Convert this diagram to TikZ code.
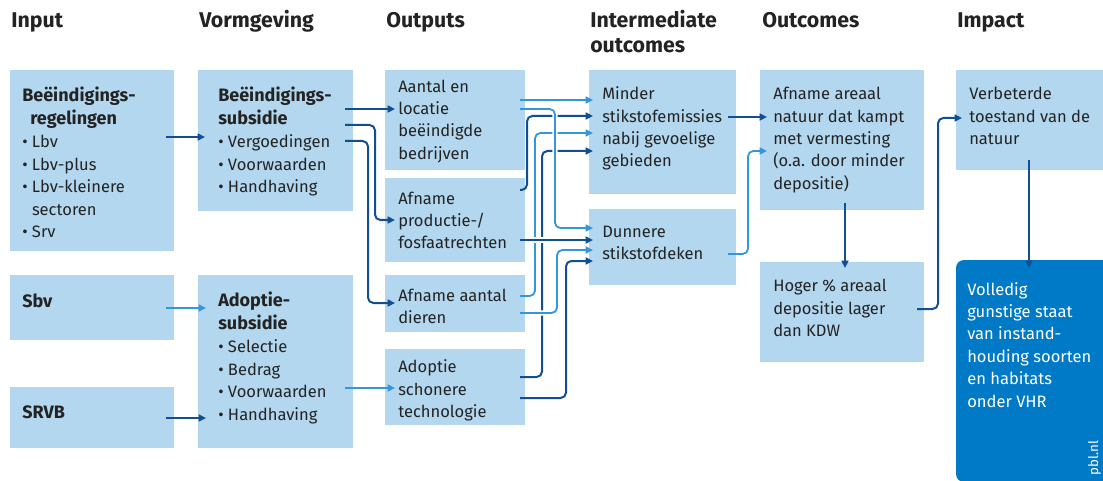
\documentclass[tikz,border=0pt]{standalone}
\usepackage{fontspec}
\setmainfont{Fira Sans}
\usetikzlibrary{arrows.meta}

\definecolor{boxfill}{RGB}{179,215,239}
\definecolor{boxdark}{RGB}{0,121,198}
\definecolor{linedark}{RGB}{18,78,146}
\definecolor{linelight}{RGB}{52,151,219}
\definecolor{inktext}{RGB}{35,35,35}

\newcommand\boxtitle[1]{{\fontsize{13.5}{16.8}\selectfont\bfseries #1}}
% connector between output and intermediate columns, with a white casing
% in the gutter so that crossings show a small gap
\newcommand\gutterline[2]{%
  \begin{scope}
    \clip (526,60) rectangle (588,440);
    \draw[casing] #2;
  \end{scope}
  \draw[#1] #2;}

\begin{document}
\begin{tikzpicture}[x=0.75pt, y=-0.75pt,
  size/.style 2 args={minimum width=#1*0.75pt, minimum height=#2*0.75pt},
  panel/.style={fill=boxfill, draw=none, inner sep=0, outer sep=0, anchor=north west},
  txt/.style={anchor=north west, inner sep=0, align=left, text=inktext,
              font=\fontsize{12.4}{16.8}\selectfont, execute at begin node=\strut},
  head/.style={anchor=base west, inner sep=0, text=inktext,
               font=\fontsize{16}{20}\selectfont\bfseries},
  conn/.style={rounded corners=4pt, -{Triangle[length=5.5pt,width=5.2pt]}},
  dk/.style={conn, draw=linedark, line width=1.5pt},
  lt/.style={conn, draw=linelight, line width=1.35pt},
  casing/.style={draw=white, line width=4pt, rounded corners=4pt}]
\useasboundingbox (0,0) rectangle (1103,481);

% column headings
\node[head] (hin)   at (11,28)  {Input};
\node[head] (hvorm) at (199,28) {Vormgeving};
\node[head] (hout)  at (386,28) {Outputs};
\node[head] (hint)  at (590,28) {Intermediate};
\node[head] (hint2) at (590,53) {outcomes};
\node[head] (hoc)   at (762,28) {Outcomes};
\node[head] (himp)  at (957,28) {Impact};

% boxes
\node[panel, size={164}{181}] (in1)  at (10,70)  {};
\node[panel, size={164}{65}]  (sbv)  at (10,275) {};
\node[panel, size={164}{61}]  (srvb) at (10,387) {};
\node[panel, size={155}{141}] (vb)   at (198,70) {};
\node[panel, size={155}{173}] (va)   at (198,275) {};
\node[panel, size={140}{100}] (o1)   at (385,70) {};
\node[panel, size={140}{84}]  (o2)   at (385,178) {};
\node[panel, size={140}{57}]  (o3)   at (385,275) {};
\node[panel, size={140}{76}]  (o4)   at (385,349) {};
\node[panel, size={147}{124}] (im1)  at (589,70) {};
\node[panel, size={147}{76}]  (im2)  at (589,209) {};
\node[panel, size={164}{140}] (oc1)  at (760,70) {};
\node[panel, size={164}{100}] (oc2)  at (760,262) {};
\node[panel, size={147}{100}] (ip1)  at (956,70) {};
\node[panel, fill=boxdark, rounded corners=6pt, size={160}{222}] (ip2) at (956,260) {};

% box texts
\node[txt] (in1t) at ([shift={(12,17)}]in1.north west)
  {\boxtitle{Beëindigings-}\\\boxtitle{\hspace*{6pt}regelingen}\\[1pt]• Lbv\\• Lbv-plus\\• Lbv-kleinere\\\hphantom{• }sectoren\\• Srv};
\node[txt] (sbvt) at ([shift={(12,17)}]sbv.north west) {\boxtitle{Sbv}};
\node[txt] (srvbt) at ([shift={(12,16)}]srvb.north west) {\boxtitle{SRVB}};
\node[txt] (vbt) at ([shift={(20,17)}]vb.north west)
  {\boxtitle{Beëindigings-}\\\boxtitle{subsidie}\\[1pt]• Vergoedingen\\• Voorwaarden\\• Handhaving};
\node[txt] (vat) at ([shift={(20,17)}]va.north west)
  {\boxtitle{Adoptie-}\\\boxtitle{subsidie}\\[1pt]• Selectie\\• Bedrag\\• Voorwaarden\\• Handhaving};
\node[txt] (o1t) at ([shift={(13,9.5)}]o1.north west) {Aantal en\\locatie\\beëindigde\\bedrijven};
\node[txt] (o2t) at ([shift={(13,13.5)}]o2.north west) {Afname\\productie-/\\fosfaatrechten};
\node[txt] (o3t) at ([shift={(13,13.5)}]o3.north west) {Afname aantal\\dieren};
\node[txt] (o4t) at ([shift={(13,10.5)}]o4.north west) {Adoptie\\schonere\\technologie};
\node[txt] (im1t) at ([shift={(13,16.5)}]im1.north west) {Minder\\stikstofemissies\\nabij gevoelige\\gebieden};
\node[txt] (im2t) at ([shift={(13,16.5)}]im2.north west) {Dunnere\\stikstofdeken};
\node[txt] (oc1t) at ([shift={(13,17)}]oc1.north west) {Afname areaal\\natuur dat kampt\\met vermesting\\(o.a. door minder\\depositie)};
\node[txt] (oc2t) at ([shift={(13,17)}]oc2.north west) {Hoger \% areaal\\depositie lager\\dan KDW};
\node[txt] (ip1t) at ([shift={(13,17)}]ip1.north west) {Verbeterde\\toestand van de\\natuur};
\node[txt, text=white] (ip2t) at ([shift={(11,22)}]ip2.north west) {Volledig\\gunstige staat\\van instand-\\houding soorten\\en habitats\\onder VHR};
\node[rotate=90, anchor=base west, inner sep=0, text=white, font=\fontsize{10}{12}\selectfont] (credit) at (1098,476) {pbl.nl};

% input -> design
\draw[dk] ([shift={(-8,67)}]in1.north east) -- ([shift={(7,67)}]vb.north west);
\draw[lt] ([shift={(-8,33)}]sbv.north east) -- ([shift={(8,33)}]va.north west);
\draw[dk] ([shift={(-8,31)}]srvb.north east) -- ([shift={(8,143)}]va.north west);

% design -> outputs
\draw[dk] ([shift={(-8,39)}]vb.north east) -- ([shift={(10,39)}]o1.north west);
\draw[dk] ([shift={(-8,55)}]vb.north east) -| ([shift={(-10,42)}]o2.north west) -- ([shift={(10,42)}]o2.north west);
\draw[dk] ([shift={(-8,71)}]vb.north east) -| ([shift={(-17,28)}]o3.north west) -- ([shift={(10,28)}]o3.north west);
\draw[lt] ([shift={(-8,113)}]va.north east) -- ([shift={(10,39)}]o4.north west);

% outputs -> intermediate outcomes
\gutterline{dk}{([shift={(-5,28)}]o4.north east) -| ([shift={(-47,81)}]im1.north west) -- ([shift={(4,81)}]im1.north west)}
\gutterline{lt}{([shift={(-5,21)}]o3.north east) -| ([shift={(-54,63)}]im1.north west) -- ([shift={(4,63)}]im1.north west)}
\gutterline{dk}{([shift={(-5,12)}]o2.north east) -| ([shift={(-62,46)}]im1.north west) -- ([shift={(4,46)}]im1.north west)}
\gutterline{lt}{([shift={(-5,30)}]o1.north east) -- ([shift={(4,30)}]im1.north west)}
\gutterline{lt}{([shift={(-5,38)}]o3.north east) -| ([shift={(-32,41)}]im2.north west) -- ([shift={(4,41)}]im2.north west)}
\gutterline{dk}{([shift={(-5,62)}]o2.north east) -- ([shift={(4,31)}]im2.north west)}
\gutterline{lt}{([shift={(-5,39)}]o1.north east) -| ([shift={(-34,19)}]im2.north west) -- ([shift={(4,19)}]im2.north west)}
\gutterline{dk}{([shift={(-5,49)}]o4.north east) -| ([shift={(-23,52)}]im2.north west) -- ([shift={(4,52)}]im2.north west)}

% intermediate outcomes -> outcomes
\draw[dk] ([shift={(-8,47)}]im1.north east) -- ([shift={(7,47)}]oc1.north west);
\draw[lt] ([shift={(-8,45)}]im2.north east) -| ([shift={(-12,81)}]oc1.north west) -- ([shift={(7,81)}]oc1.north west);

% outcomes -> impact
\draw[dk] ([shift={(85,-7)}]oc1.south west) -- ([shift={(85,6)}]oc2.north west);
\draw[dk] ([shift={(-7,47)}]oc2.north east) -| ([shift={(-18,48)}]ip1.north west) -- ([shift={(6,48)}]ip1.north west);
\draw[dk] ([shift={(73,-10)}]ip1.south west) -- ([shift={(73,8)}]ip2.north west);
\end{tikzpicture}
\end{document}
